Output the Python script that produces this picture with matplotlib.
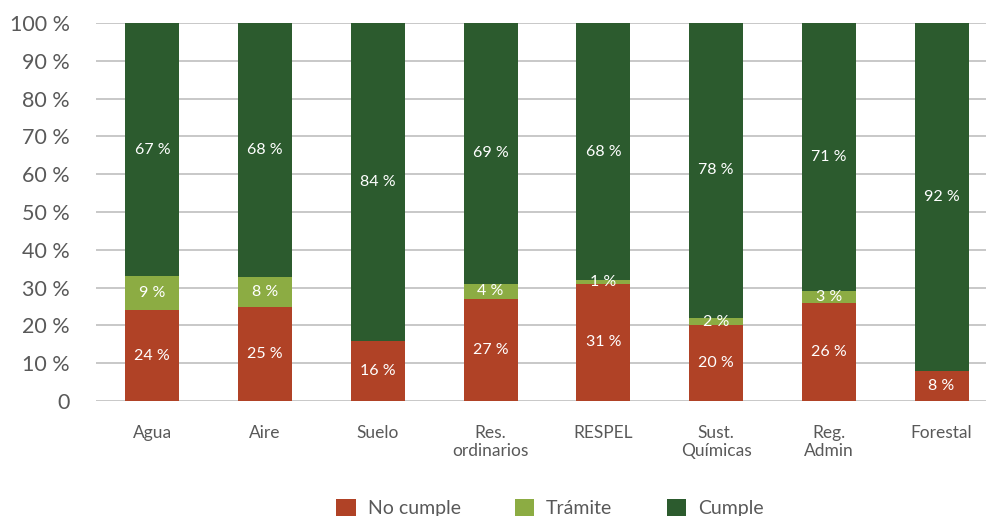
import numpy as np
import matplotlib
matplotlib.use('Agg')
from matplotlib import pyplot as plt

plt.rcParams['font.family'] = ['Lato', 'DejaVu Sans']

categories = ['Agua', 'Aire', 'Suelo', 'Res.\nordinarios', 'RESPEL',
              'Sust.\nQuímicas', 'Reg.\nAdmin', 'Forestal']
no_cumple = [24, 25, 16, 27, 31, 20, 26, 8]
tramite = [9, 8, 0, 4, 1, 2, 3, 0]
cumple = [67, 68, 84, 69, 68, 78, 71, 92]

series_names = ['No cumple', 'Trámite', 'Cumple']
colors = ['#B04226', '#8CAC43', '#2C5B2E']

data = np.array([no_cumple, tramite, cumple], dtype=float)
heights = data / data.sum(axis=0) * 100  # stacked to 100 %

fig = plt.figure(figsize=(9.86, 5.16), dpi=100)
ax = fig.add_axes([96 / 986, 1 - 401 / 516, 902 / 986, 378 / 516])

x = np.arange(len(categories))
bottom = np.zeros(len(categories))
for i, name in enumerate(series_names):
    ax.bar(x, heights[i], 0.48, bottom=bottom, color=colors[i], label=name, zorder=2)
    for xi, b, h, v in zip(x, bottom, heights[i], data[i]):
        if v > 0:
            ax.text(xi, b + h / 2, f'{int(v)} %', ha='center', va='center',
                    color='white', fontsize=11.5, zorder=3)
    bottom += heights[i]

ax.set_xlim(-0.5, len(categories) - 0.5)
ax.set_ylim(0, 100)
ax.set_yticks(np.arange(0, 101, 10))
ax.set_yticklabels(['0'] + [f'{t} %' for t in range(10, 101, 10)])
ax.set_xticks(x)
ax.set_xticklabels(categories, linespacing=1.2)
ax.tick_params(axis='y', length=0, labelsize=15.5, labelcolor='#595959', pad=19)
ax.tick_params(axis='x', length=0, labelsize=12.5, labelcolor='#595959', pad=17)

ax.grid(axis='y', color='#bfbfbf', linewidth=1.2, zorder=0)
for s in ax.spines.values():
    s.set_visible(False)

fig.legend(loc='center', bbox_to_anchor=(550 / 986, 1 - 508 / 516), ncol=3, frameon=False,
           fontsize=14, handlelength=1.0, handleheight=1.0, handletextpad=0.6,
           columnspacing=2.8, labelcolor='#595959')

fig.savefig('out.png', dpi=100)
